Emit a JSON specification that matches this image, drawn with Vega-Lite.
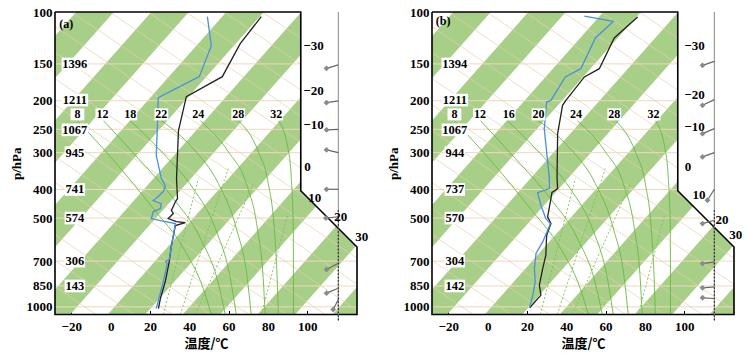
{
"$schema": "https://vega.github.io/schema/vega-lite/v6.json",
"background": "white",
"padding": {"left": 10, "top": 6, "right": 0, "bottom": 0},
"spacing": 75,
"bounds": "flush",
"config": {
  "view": {"stroke": null},
  "font": "Liberation Serif",
  "axisY": {"labelFont": "Liberation Serif", "labelFontSize": 13, "labelFontWeight": "bold", "labelColor": "black", "ticks": false, "domain": false, "grid": false, "labelPadding": 3, "titleFont": "Liberation Serif", "titleFontSize": 13, "titleFontWeight": "bold", "titleColor": "black", "titlePadding": 3, "labelOverlap": false, "labelBound": false},
  "axisX": {"labelFont": "Liberation Serif", "labelFontSize": 13, "labelFontWeight": "bold", "labelColor": "black", "ticks": true, "tickSize": -4, "tickColor": "black", "domain": false, "grid": false, "labelPadding": 10, "titleFont": "Noto Sans CJK SC", "titleFontSize": 13, "titleFontWeight": "bold", "titleColor": "black", "titlePadding": 4, "labelOverlap": false, "labelBound": false, "labelFlush": false}
},
"datasets": {
  "stripes": [
    {"s":0,"p":100,"x":-17.44,"x2":1.63},{"s":0,"p":1100,"x":-156.04,"x2":-136.97},
    {"s":1,"p":100,"x":20.69,"x2":39.76},{"s":1,"p":1100,"x":-117.91,"x2":-98.84},
    {"s":2,"p":100,"x":58.82,"x2":77.89},{"s":2,"p":1100,"x":-79.78,"x2":-60.71},
    {"s":3,"p":100,"x":96.95,"x2":116.02},{"s":3,"p":1100,"x":-41.65,"x2":-22.58},
    {"s":4,"p":100,"x":135.08,"x2":154.15},{"s":4,"p":1100,"x":-3.52,"x2":15.55},
    {"s":5,"p":100,"x":173.21,"x2":192.28},{"s":5,"p":1100,"x":34.61,"x2":53.68},
    {"s":6,"p":100,"x":211.34,"x2":230.41},{"s":6,"p":1100,"x":72.74,"x2":91.81},
    {"s":7,"p":100,"x":249.47,"x2":268.54},{"s":7,"p":1100,"x":110.87,"x2":129.94}
  ],
  "isobar": [
    {"p":150,"x":-28.3,"x2":125.3},{"p":200,"x":-28.3,"x2":125.3},{"p":250,"x":-28.3,"x2":125.3},
    {"p":300,"x":-28.3,"x2":125.3},{"p":400,"x":-28.3,"x2":125.3},{"p":500,"x":-28.3,"x2":125.3},
    {"p":700,"x":-28.3,"x2":125.3},{"p":850,"x":-28.3,"x2":125.3},{"p":1000,"x":-28.3,"x2":125.3}
  ],
  "dry": [
    {"k":0,"x":-28.3,"p":22.12},{"k":0,"x":125.3,"p":110.25},
    {"k":1,"x":-28.3,"p":27.10},{"k":1,"x":125.3,"p":135.08},
    {"k":2,"x":-28.3,"p":33.19},{"k":2,"x":125.3,"p":165.45},
    {"k":3,"x":-28.3,"p":40.66},{"k":3,"x":125.3,"p":202.66},
    {"k":4,"x":-28.3,"p":49.81},{"k":4,"x":125.3,"p":248.27},
    {"k":5,"x":-28.3,"p":61.02},{"k":5,"x":125.3,"p":304.17},
    {"k":6,"x":-28.3,"p":74.72},{"k":6,"x":125.3,"p":372.57},
    {"k":7,"x":-28.3,"p":91.56},{"k":7,"x":125.3,"p":456.29},
    {"k":8,"x":-28.3,"p":112.15},{"k":8,"x":125.3,"p":559.15},
    {"k":9,"x":-28.3,"p":137.40},{"k":9,"x":125.3,"p":684.74},
    {"k":10,"x":-28.3,"p":168.34},{"k":10,"x":125.3,"p":838.91},
    {"k":11,"x":-28.3,"p":206.20},{"k":11,"x":125.3,"p":1027.8},
    {"k":12,"x":-28.3,"p":252.57},{"k":12,"x":125.3,"p":1258.9},
    {"k":13,"x":-28.3,"p":309.39},{"k":13,"x":125.3,"p":1542.4},
    {"k":14,"x":-28.3,"p":378.97},{"k":14,"x":125.3,"p":1889.3},
    {"k":15,"x":-28.3,"p":464.39},{"k":15,"x":125.3,"p":2314.2},
    {"k":16,"x":-28.3,"p":568.76},{"k":16,"x":125.3,"p":2834.5},
    {"k":17,"x":-28.3,"p":696.63},{"k":17,"x":125.3,"p":3472.7},
    {"k":18,"x":-28.3,"p":853.48},{"k":18,"x":125.3,"p":4254.9},
    {"k":19,"x":-28.3,"p":1045.5},{"k":19,"x":125.3,"p":5212.0}
  ],
  "moist": [
    {"k":8,"x":-16.9,"p":233.5},{"k":8,"x":2.9,"p":326.7},{"k":8,"x":21.7,"p":464.3},{"k":8,"x":37.0,"p":632.4},{"k":8,"x":47.1,"p":867.0},{"k":8,"x":51.2,"p":1062},
    {"k":12,"x":-3.7,"p":233.5},{"k":12,"x":14.1,"p":314.2},{"k":12,"x":31.9,"p":429.4},{"k":12,"x":45.6,"p":584.9},{"k":12,"x":54.8,"p":833.7},{"k":12,"x":58.3,"p":1062},
    {"k":18,"x":10.0,"p":233.5},{"k":18,"x":26.8,"p":302.2},{"k":18,"x":42.0,"p":397.2},{"k":18,"x":53.2,"p":541.0},{"k":18,"x":60.9,"p":802.0},{"k":18,"x":63.9,"p":1062},
    {"k":22,"x":25.8,"p":233.5},{"k":22,"x":42.0,"p":290.6},{"k":22,"x":54.8,"p":381.9},{"k":22,"x":63.9,"p":541.0},{"k":22,"x":69.5,"p":802.0},{"k":22,"x":71.5,"p":1062},
    {"k":24,"x":45.6,"p":233.5},{"k":24,"x":59.8,"p":297.5},{"k":24,"x":69.0,"p":381.9},{"k":24,"x":74.6,"p":541.0},{"k":24,"x":77.6,"p":802.0},{"k":24,"x":78.6,"p":1062},
    {"k":28,"x":64.9,"p":233.5},{"k":28,"x":75.1,"p":297.5},{"k":28,"x":80.2,"p":381.9},{"k":28,"x":83.2,"p":541.0},{"k":28,"x":84.7,"p":802.0},{"k":28,"x":85.3,"p":1062},
    {"k":32,"x":85.3,"p":233.5},{"k":32,"x":90.2,"p":290.6},{"k":32,"x":91.9,"p":367.4},{"k":32,"x":92.9,"p":541.0},{"k":32,"x":93.0,"p":1062}
  ],
  "mixr": [
    {"k":1,"x":26.8,"p":1062},{"k":1,"x":44.6,"p":367.4},
    {"k":2,"x":35.4,"p":1062},{"k":2,"x":59.8,"p":339.8},
    {"k":3,"x":43.1,"p":1062},{"k":3,"x":72.6,"p":381.9},
    {"k":4,"x":76.6,"p":1062},{"k":4,"x":90.2,"p":482.8}
  ],
  "outer": [
    {"p":100,"x":96.7,"x2":125.3},{"p":404,"x":96.7,"x2":125.3},{"p":627,"x":125.3,"x2":125.3}
  ],
  "frame": [
    {"o":1,"x":-28.3,"p":100},{"o":2,"x":96.7,"p":100},{"o":3,"x":96.7,"p":404},{"o":4,"x":125.3,"p":627},
    {"o":5,"x":125.3,"p":1062},{"o":6,"x":-28.3,"p":1062},{"o":7,"x":-28.3,"p":100}
  ],
  "prof": [
    {"panel":"a","s":"T","o":1,"x":76.6,"p":103.7},{"panel":"a","s":"T","o":2,"x":65.9,"p":128.1},{"panel":"a","s":"T","o":3,"x":56.8,"p":165.7},
    {"panel":"a","s":"T","o":4,"x":38.5,"p":193.7},{"panel":"a","s":"T","o":5,"x":34.5,"p":252.6},{"panel":"a","s":"T","o":6,"x":33.5,"p":367.4},
    {"panel":"a","s":"T","o":7,"x":34.0,"p":429.4},{"panel":"a","s":"T","o":8,"x":33.0,"p":439.6},{"panel":"a","s":"T","o":9,"x":30.9,"p":471.6},
    {"panel":"a","s":"T","o":10,"x":31.9,"p":482.8},{"panel":"a","s":"T","o":11,"x":29.3,"p":502.0},{"panel":"a","s":"T","o":12,"x":33.4,"p":513.9},
    {"panel":"a","s":"T","o":13,"x":38.0,"p":517.9},{"panel":"a","s":"T","o":14,"x":32.9,"p":530.2},{"panel":"a","s":"T","o":15,"x":30.9,"p":619.8},
    {"panel":"a","s":"T","o":16,"x":29.8,"p":702.2},{"panel":"a","s":"T","o":17,"x":27.8,"p":820.9},{"panel":"a","s":"T","o":18,"x":25.3,"p":937.4},
    {"panel":"a","s":"T","o":19,"x":24.3,"p":1013.4},
    {"panel":"a","s":"Td","o":1,"x":49.2,"p":103.7},{"panel":"a","s":"Td","o":2,"x":51.2,"p":130.1},{"panel":"a","s":"Td","o":3,"x":45.1,"p":165.7},
    {"panel":"a","s":"Td","o":4,"x":24.2,"p":195.2},{"panel":"a","s":"Td","o":5,"x":23.7,"p":252.6},{"panel":"a","s":"Td","o":6,"x":23.2,"p":306.9},
    {"panel":"a","s":"Td","o":7,"x":25.8,"p":367.4},{"panel":"a","s":"Td","o":8,"x":27.8,"p":388.0},{"panel":"a","s":"Td","o":9,"x":26.8,"p":406.6},
    {"panel":"a","s":"Td","o":10,"x":24.2,"p":422.8},{"panel":"a","s":"Td","o":11,"x":21.7,"p":436.2},{"panel":"a","s":"Td","o":12,"x":25.8,"p":446.5},
    {"panel":"a","s":"Td","o":13,"x":25.3,"p":464.3},{"panel":"a","s":"Td","o":14,"x":21.7,"p":475.3},{"panel":"a","s":"Td","o":15,"x":20.7,"p":502.0},
    {"panel":"a","s":"Td","o":16,"x":25.3,"p":509.9},{"panel":"a","s":"Td","o":17,"x":32.9,"p":522.0},{"panel":"a","s":"Td","o":18,"x":31.9,"p":573.2},
    {"panel":"a","s":"Td","o":19,"x":29.8,"p":690.0},{"panel":"a","s":"Td","o":20,"x":28.0,"p":702.2},{"panel":"a","s":"Td","o":21,"x":28.8,"p":713.3},
    {"panel":"a","s":"Td","o":22,"x":26.8,"p":820.9},{"panel":"a","s":"Td","o":23,"x":24.3,"p":952.1},{"panel":"a","s":"Td","o":24,"x":23.2,"p":1013.4},
    {"panel":"b","s":"T","o":1,"x":76.3,"p":104.0},{"panel":"b","s":"T","o":2,"x":64.4,"p":122.5},{"panel":"b","s":"T","o":3,"x":56.8,"p":155.7},
    {"panel":"b","s":"T","o":4,"x":49.2,"p":166.1},{"panel":"b","s":"T","o":5,"x":39.8,"p":199.4},{"panel":"b","s":"T","o":6,"x":38.1,"p":207.3},
    {"panel":"b","s":"T","o":7,"x":35.6,"p":258.6},{"panel":"b","s":"T","o":8,"x":35.3,"p":367.4},{"panel":"b","s":"T","o":9,"x":35.6,"p":397.2},
    {"panel":"b","s":"T","o":10,"x":32.7,"p":409.8},{"panel":"b","s":"T","o":11,"x":31.9,"p":440.6},{"panel":"b","s":"T","o":12,"x":30.5,"p":495.3},
    {"panel":"b","s":"T","o":13,"x":32.2,"p":522.0},{"panel":"b","s":"T","o":14,"x":30.0,"p":571.9},{"panel":"b","s":"T","o":15,"x":29.6,"p":668.6},
    {"panel":"b","s":"T","o":16,"x":28.0,"p":741.6},{"panel":"b","s":"T","o":17,"x":26.3,"p":845.0},{"panel":"b","s":"T","o":18,"x":27.1,"p":913.0},
    {"panel":"b","s":"T","o":19,"x":22.5,"p":987.7},{"panel":"b","s":"T","o":20,"x":21.5,"p":1007.9},
    {"panel":"b","s":"Td","o":1,"x":49.2,"p":103.2},{"panel":"b","s":"Td","o":2,"x":63.9,"p":107.6},{"panel":"b","s":"Td","o":3,"x":54.8,"p":122.5},
    {"panel":"b","s":"Td","o":4,"x":47.4,"p":155.7},{"panel":"b","s":"Td","o":5,"x":39.5,"p":166.1},{"panel":"b","s":"Td","o":6,"x":32.2,"p":199.4},
    {"panel":"b","s":"Td","o":7,"x":30.0,"p":201.9},{"panel":"b","s":"Td","o":8,"x":28.8,"p":248.7},{"panel":"b","s":"Td","o":9,"x":31.4,"p":367.4},
    {"panel":"b","s":"Td","o":10,"x":31.4,"p":397.2},{"panel":"b","s":"Td","o":11,"x":25.4,"p":409.8},{"panel":"b","s":"Td","o":12,"x":27.1,"p":452.4},
    {"panel":"b","s":"Td","o":13,"x":29.6,"p":502.0},{"panel":"b","s":"Td","o":14,"x":31.9,"p":522.0},{"panel":"b","s":"Td","o":15,"x":30.5,"p":550.0},
    {"panel":"b","s":"Td","o":16,"x":28.0,"p":602.3},{"panel":"b","s":"Td","o":17,"x":24.6,"p":659.7},{"panel":"b","s":"Td","o":18,"x":23.8,"p":741.6},
    {"panel":"b","s":"Td","o":19,"x":24.2,"p":823.0},{"panel":"b","s":"Td","o":20,"x":23.0,"p":913.0},{"panel":"b","s":"Td","o":21,"x":21.3,"p":1007.9}
  ],
  "hl": [
    {"panel":"a","t":"1396","x":-18.2,"p":150},{"panel":"a","t":"1211","x":-18.2,"p":199},{"panel":"a","t":"1067","x":-18.2,"p":251},
    {"panel":"a","t":"945","x":-18.2,"p":300},{"panel":"a","t":"741","x":-18.2,"p":400},{"panel":"a","t":"574","x":-18.2,"p":500},
    {"panel":"a","t":"306","x":-18.2,"p":700},{"panel":"a","t":"143","x":-18.2,"p":850},
    {"panel":"b","t":"1394","x":-16.7,"p":150},{"panel":"b","t":"1211","x":-16.7,"p":199},{"panel":"b","t":"1067","x":-16.7,"p":251},
    {"panel":"b","t":"944","x":-16.7,"p":300},{"panel":"b","t":"737","x":-16.7,"p":400},{"panel":"b","t":"570","x":-16.7,"p":500},
    {"panel":"b","t":"304","x":-16.7,"p":700},{"panel":"b","t":"142","x":-16.7,"p":850}
  ],
  "ml": [
    {"panel":"a","t":"8","x":-16.9,"p":222.5},{"panel":"a","t":"12","x":-4.2,"p":222.5},{"panel":"a","t":"18","x":10.0,"p":222.5},
    {"panel":"a","t":"22","x":25.8,"p":222.5},{"panel":"a","t":"24","x":44.6,"p":222.5},{"panel":"a","t":"28","x":64.9,"p":222.5},{"panel":"a","t":"32","x":84.2,"p":222.5},
    {"panel":"b","t":"8","x":-16.9,"p":222.5},{"panel":"b","t":"12","x":-3.9,"p":222.5},{"panel":"b","t":"16","x":10.7,"p":222.5},
    {"panel":"b","t":"20","x":25.9,"p":222.5},{"panel":"b","t":"24","x":44.9,"p":222.5},{"panel":"b","t":"28","x":64.4,"p":222.5},{"panel":"b","t":"32","x":84.4,"p":222.5}
  ],
  "tl": [
    {"panel":"a","t":"−30","x":98.0,"p":130.1},{"panel":"a","t":"−20","x":98.0,"p":184.8},{"panel":"a","t":"−10","x":98.0,"p":241.0},
    {"panel":"a","t":"0","x":98.5,"p":334.5},{"panel":"a","t":"10","x":100.5,"p":426.1},{"panel":"a","t":"20","x":113.7,"p":494.2},{"panel":"a","t":"30","x":124.4,"p":577.7},
    {"panel":"b","t":"−30","x":100.0,"p":130.0},{"panel":"b","t":"−20","x":100.0,"p":191.8},{"panel":"b","t":"−10","x":100.0,"p":245.4},
    {"panel":"b","t":"0","x":100.2,"p":335.3},{"panel":"b","t":"10","x":104.2,"p":416.2},{"panel":"b","t":"20","x":115.9,"p":508.6},{"panel":"b","t":"30","x":122.9,"p":571.9}
  ],
  "st": [
    {"panel":"a","x":115.8,"p":100,"p2":1115},{"panel":"b","x":115.3,"p":100,"p2":1115}
  ],
  "sd": [
    {"panel":"a","x":115.8,"p":470,"p2":1115},{"panel":"b","x":115.3,"p":470,"p2":1115}
  ],
  "bb": [
    {"panel":"a","x":109.8,"p":155.3,"x2":115.8,"p2":151.2},{"panel":"a","x":109.8,"p":203.0,"x2":115.8,"p2":200.3},
    {"panel":"a","x":109.8,"p":251.2,"x2":115.8,"p2":250.0},{"panel":"a","x":109.8,"p":293.6,"x2":115.8,"p2":299.9},
    {"panel":"a","x":109.8,"p":399.4,"x2":115.8,"p2":399.4},{"panel":"a","x":109.5,"p":500.0,"x2":115.8,"p2":495.0},
    {"panel":"a","x":109.8,"p":747.3,"x2":115.8,"p2":711.6},{"panel":"a","x":109.8,"p":898.9,"x2":115.8,"p2":864.9},
    {"panel":"a","x":113.2,"p":1021.4,"x2":115.8,"p2":944.7},
    {"panel":"b","x":109.3,"p":151.7,"x2":115.3,"p2":147.1},{"panel":"b","x":109.3,"p":207.3,"x2":115.3,"p2":198.3},
    {"panel":"b","x":109.3,"p":258.6,"x2":115.3,"p2":248.7},{"panel":"b","x":109.3,"p":310.1,"x2":115.3,"p2":299.9},
    {"panel":"b","x":111.8,"p":435.1,"x2":115.3,"p2":399.4},{"panel":"b","x":109.3,"p":522.0,"x2":115.3,"p2":508.6},
    {"panel":"b","x":109.3,"p":713.3,"x2":115.3,"p2":703.9},{"panel":"b","x":109.3,"p":862.2,"x2":115.3,"p2":855.6},
    {"panel":"b","x":109.3,"p":932.0,"x2":115.3,"p2":937.4}
  ],
  "tg": [
    {"panel":"a","t":"(a)","x":-26.1,"p":109.8},{"panel":"b","t":"(b)","x":-26.4,"p":107.0}
  ]
},
"hconcat": [
  {
    "width": 302, "height": 302.5,
    "encoding": {
      "x": {"field": "x", "type": "quantitative", "scale": {"domain": [-28.3, 125.3], "nice": false, "zero": false}, "axis": {"values": [-20, 0, 20, 40, 60, 80, 100], "title": "温度/℃"}},
      "y": {"field": "p", "type": "quantitative", "scale": {"type": "log", "domain": [100, 1062], "nice": false, "reverse": true}, "axis": {"values": [100, 150, 200, 250, 300, 400, 500, 700, 850, 1000], "format": "d", "title": "p/hPa"}}
    },
    "layer": [
      {"data": {"name": "stripes"}, "mark": {"type": "area", "orient": "horizontal", "clip": true, "color": "#a8cf88", "opacity": 1}, "encoding": {"x2": {"field": "x2"}, "detail": {"field": "s"}}},
      {"data": {"name": "isobar"}, "mark": {"type": "rule", "clip": true, "color": "#f0d8bd", "strokeWidth": 1}, "encoding": {"x2": {"field": "x2"}}},
      {"data": {"name": "dry"}, "mark": {"type": "line", "clip": true, "color": "#e8cfb0", "strokeWidth": 0.7}, "encoding": {"detail": {"field": "k"}}},
      {"data": {"name": "moist"}, "mark": {"type": "line", "clip": true, "color": "#66ba42", "strokeWidth": 0.9, "interpolate": "monotone"}, "encoding": {"detail": {"field": "k"}, "order": {"field": "p"}}},
      {"data": {"name": "mixr"}, "mark": {"type": "line", "clip": true, "color": "#78c255", "strokeWidth": 0.9, "strokeDash": [2, 2]}, "encoding": {"detail": {"field": "k"}}},
      {"data": {"name": "prof"}, "transform": [{"filter": "datum.panel == 'a'"}], "mark": {"type": "line", "strokeWidth": 1.3}, "encoding": {"color": {"field": "s", "type": "nominal", "scale": {"domain": ["T", "Td"], "range": ["#222222", "#4a90d9"]}, "legend": null}, "order": {"field": "o"}}},
      {"data": {"name": "outer"}, "mark": {"type": "area", "orient": "horizontal", "clip": true, "color": "white", "opacity": 1}, "encoding": {"x2": {"field": "x2"}}},
      {"data": {"name": "frame"}, "mark": {"type": "line", "color": "black", "strokeWidth": 1.6}, "encoding": {"order": {"field": "o"}}},
      {"data": {"name": "st"}, "transform": [{"filter": "datum.panel == 'a'"}], "mark": {"type": "rule", "color": "#888888", "strokeWidth": 1}, "encoding": {"y2": {"field": "p2"}}},
      {"data": {"name": "sd"}, "transform": [{"filter": "datum.panel == 'a'"}], "mark": {"type": "rule", "color": "#222222", "strokeWidth": 1.2, "strokeDash": [1.5, 2]}, "encoding": {"y2": {"field": "p2"}}},
      {"data": {"name": "bb"}, "transform": [{"filter": "datum.panel == 'a'"}], "mark": {"type": "rule", "color": "#666666", "strokeWidth": 1.2}, "encoding": {"x2": {"field": "x2"}, "y2": {"field": "p2"}}},
      {"data": {"name": "bb"}, "transform": [{"filter": "datum.panel == 'a'"}], "mark": {"type": "point", "shape": "diamond", "filled": true, "color": "#8a8a8a", "opacity": 1, "size": 34}},
      {"data": {"name": "hl"}, "transform": [{"filter": "datum.panel == 'a' && length(datum.t) == 4"}], "mark": {"type": "point", "shape": "M-2.1,-1H2.1V1H-2.1Z", "filled": true, "color": "white", "opacity": 1, "size": 160}},
      {"data": {"name": "hl"}, "transform": [{"filter": "datum.panel == 'a' && length(datum.t) == 3"}], "mark": {"type": "point", "shape": "M-1.62,-1H1.62V1H-1.62Z", "filled": true, "color": "white", "opacity": 1, "size": 160}},
      {"data": {"name": "hl"}, "transform": [{"filter": "datum.panel == 'a'"}], "mark": {"type": "text", "font": "Liberation Serif", "fontWeight": "bold", "fontSize": 12.5, "color": "black"}, "encoding": {"text": {"field": "t"}}},
      {"data": {"name": "ml"}, "transform": [{"filter": "datum.panel == 'a'"}], "mark": {"type": "point", "shape": "M-1.15,-1H1.15V1H-1.15Z", "filled": true, "color": "white", "opacity": 1, "size": 144}},
      {"data": {"name": "ml"}, "transform": [{"filter": "datum.panel == 'a'"}], "mark": {"type": "text", "font": "Liberation Serif", "fontWeight": "bold", "fontSize": 12, "color": "black"}, "encoding": {"text": {"field": "t"}}},
      {"data": {"name": "tl"}, "transform": [{"filter": "datum.panel == 'a'"}], "mark": {"type": "text", "font": "Liberation Serif", "fontWeight": "bold", "fontSize": 13, "color": "black", "align": "left"}, "encoding": {"text": {"field": "t"}}},
      {"data": {"name": "tg"}, "transform": [{"filter": "datum.panel == 'a'"}], "mark": {"type": "text", "font": "Liberation Serif", "fontWeight": "bold", "fontSize": 12, "color": "black", "align": "left"}, "encoding": {"text": {"field": "t"}}}
    ]
  },
  {
    "width": 302, "height": 302.5,
    "encoding": {
      "x": {"field": "x", "type": "quantitative", "scale": {"domain": [-28.3, 125.3], "nice": false, "zero": false}, "axis": {"values": [-20, 0, 20, 40, 60, 80, 100], "title": "温度/℃"}},
      "y": {"field": "p", "type": "quantitative", "scale": {"type": "log", "domain": [100, 1062], "nice": false, "reverse": true}, "axis": {"values": [100, 150, 200, 250, 300, 400, 500, 700, 850, 1000], "format": "d", "title": "p/hPa"}}
    },
    "layer": [
      {"data": {"name": "stripes"}, "mark": {"type": "area", "orient": "horizontal", "clip": true, "color": "#a8cf88", "opacity": 1}, "encoding": {"x2": {"field": "x2"}, "detail": {"field": "s"}}},
      {"data": {"name": "isobar"}, "mark": {"type": "rule", "clip": true, "color": "#f0d8bd", "strokeWidth": 1}, "encoding": {"x2": {"field": "x2"}}},
      {"data": {"name": "dry"}, "mark": {"type": "line", "clip": true, "color": "#e8cfb0", "strokeWidth": 0.7}, "encoding": {"detail": {"field": "k"}}},
      {"data": {"name": "moist"}, "mark": {"type": "line", "clip": true, "color": "#66ba42", "strokeWidth": 0.9, "interpolate": "monotone"}, "encoding": {"detail": {"field": "k"}, "order": {"field": "p"}}},
      {"data": {"name": "mixr"}, "mark": {"type": "line", "clip": true, "color": "#78c255", "strokeWidth": 0.9, "strokeDash": [2, 2]}, "encoding": {"detail": {"field": "k"}}},
      {"data": {"name": "prof"}, "transform": [{"filter": "datum.panel == 'b'"}], "mark": {"type": "line", "strokeWidth": 1.3}, "encoding": {"color": {"field": "s", "type": "nominal", "scale": {"domain": ["T", "Td"], "range": ["#222222", "#4a90d9"]}, "legend": null}, "order": {"field": "o"}}},
      {"data": {"name": "outer"}, "mark": {"type": "area", "orient": "horizontal", "clip": true, "color": "white", "opacity": 1}, "encoding": {"x2": {"field": "x2"}}},
      {"data": {"name": "frame"}, "mark": {"type": "line", "color": "black", "strokeWidth": 1.6}, "encoding": {"order": {"field": "o"}}},
      {"data": {"name": "st"}, "transform": [{"filter": "datum.panel == 'b'"}], "mark": {"type": "rule", "color": "#888888", "strokeWidth": 1}, "encoding": {"y2": {"field": "p2"}}},
      {"data": {"name": "sd"}, "transform": [{"filter": "datum.panel == 'b'"}], "mark": {"type": "rule", "color": "#222222", "strokeWidth": 1.2, "strokeDash": [1.5, 2]}, "encoding": {"y2": {"field": "p2"}}},
      {"data": {"name": "bb"}, "transform": [{"filter": "datum.panel == 'b'"}], "mark": {"type": "rule", "color": "#666666", "strokeWidth": 1.2}, "encoding": {"x2": {"field": "x2"}, "y2": {"field": "p2"}}},
      {"data": {"name": "bb"}, "transform": [{"filter": "datum.panel == 'b'"}], "mark": {"type": "point", "shape": "diamond", "filled": true, "color": "#8a8a8a", "opacity": 1, "size": 34}},
      {"data": {"name": "hl"}, "transform": [{"filter": "datum.panel == 'b' && length(datum.t) == 4"}], "mark": {"type": "point", "shape": "M-2.1,-1H2.1V1H-2.1Z", "filled": true, "color": "white", "opacity": 1, "size": 160}},
      {"data": {"name": "hl"}, "transform": [{"filter": "datum.panel == 'b' && length(datum.t) == 3"}], "mark": {"type": "point", "shape": "M-1.62,-1H1.62V1H-1.62Z", "filled": true, "color": "white", "opacity": 1, "size": 160}},
      {"data": {"name": "hl"}, "transform": [{"filter": "datum.panel == 'b'"}], "mark": {"type": "text", "font": "Liberation Serif", "fontWeight": "bold", "fontSize": 12.5, "color": "black"}, "encoding": {"text": {"field": "t"}}},
      {"data": {"name": "ml"}, "transform": [{"filter": "datum.panel == 'b'"}], "mark": {"type": "point", "shape": "M-1.15,-1H1.15V1H-1.15Z", "filled": true, "color": "white", "opacity": 1, "size": 144}},
      {"data": {"name": "ml"}, "transform": [{"filter": "datum.panel == 'b'"}], "mark": {"type": "text", "font": "Liberation Serif", "fontWeight": "bold", "fontSize": 12, "color": "black"}, "encoding": {"text": {"field": "t"}}},
      {"data": {"name": "tl"}, "transform": [{"filter": "datum.panel == 'b'"}], "mark": {"type": "text", "font": "Liberation Serif", "fontWeight": "bold", "fontSize": 13, "color": "black", "align": "left"}, "encoding": {"text": {"field": "t"}}},
      {"data": {"name": "tg"}, "transform": [{"filter": "datum.panel == 'b'"}], "mark": {"type": "text", "font": "Liberation Serif", "fontWeight": "bold", "fontSize": 12, "color": "black", "align": "left"}, "encoding": {"text": {"field": "t"}}}
    ]
  }
]
}
